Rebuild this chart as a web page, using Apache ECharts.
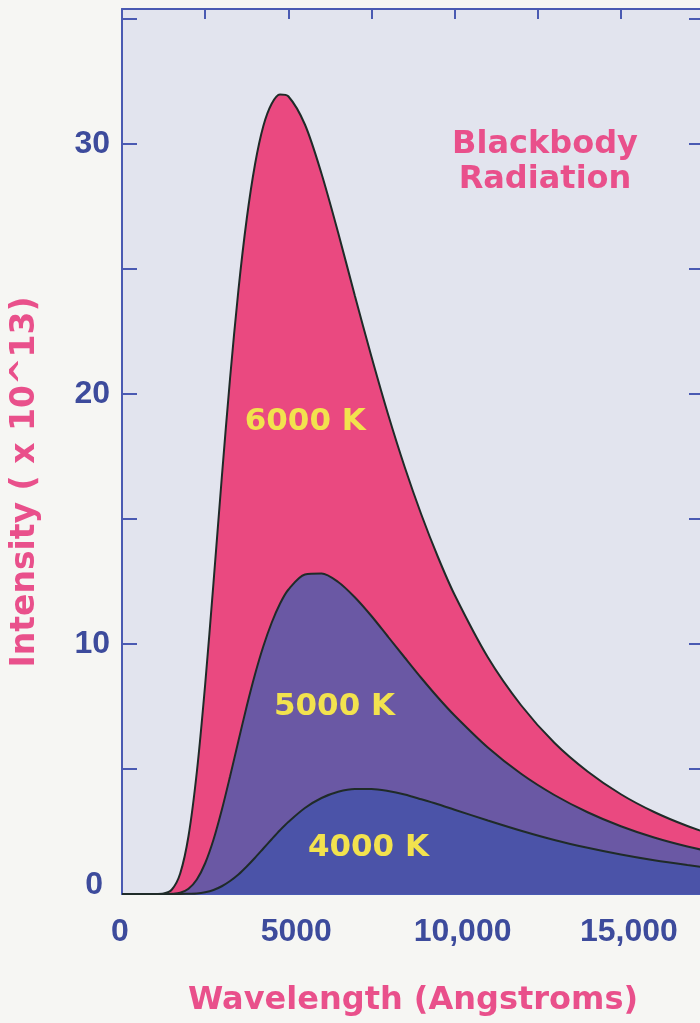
<!DOCTYPE html>
<html>
<head>
<meta charset="utf-8">
<script src="https://cdn.jsdelivr.net/npm/echarts@6/dist/echarts.min.js"></script>
<style>
  html, body { margin: 0; padding: 0; background: #f6f6f3; }
  #chart { width: 700px; height: 1023px; }
</style>
</head>
<body>
<div id="chart"></div>
<script>
// Wavelength samples (Angstroms)
const wavelengths = [0, 1000, 1250, 1500, 1750, 2000, 2250, 2500, 2750, 3000, 3250, 3500, 3750, 4000, 4250, 4500, 4750, 5000, 5500, 6000, 6500, 7000, 7500, 8000, 8500, 9000, 9500, 10000, 11000, 12000, 13000, 14000, 15000, 16000, 17000, 18000];
// Intensity (x 10^13)
const t6000 = [0, 0, 0.02, 0.18, 0.82, 2.32, 4.88, 8.37, 12.43, 16.65, 20.64, 24.15, 27.0, 29.19, 30.72, 31.61, 31.98, 31.91, 30.78, 28.81, 26.45, 23.94, 21.50, 19.19, 17.08, 15.18, 13.48, 11.97, 9.47, 7.55, 6.05, 4.90, 3.99, 3.28, 2.72, 2.27];
const t5000 = [0, 0, 0, 0.01, 0.05, 0.21, 0.58, 1.23, 2.17, 3.36, 4.71, 6.12, 7.51, 8.79, 9.91, 10.85, 11.61, 12.17, 12.78, 12.82, 12.48, 11.87, 11.12, 10.29, 9.46, 8.64, 7.86, 7.14, 5.86, 4.81, 3.96, 3.27, 2.71, 2.26, 1.90, 1.61];
const t4000 = [0, 0, 0, 0, 0, 0.01, 0.02, 0.07, 0.16, 0.31, 0.52, 0.78, 1.10, 1.45, 1.82, 2.19, 2.55, 2.88, 3.44, 3.84, 4.09, 4.20, 4.20, 4.12, 3.98, 3.79, 3.59, 3.37, 2.94, 2.53, 2.16, 1.85, 1.58, 1.35, 1.16, 0.99];
const seriesNames = ['6000 K', '5000 K', '4000 K'];
// label anchor points in data units [wavelength, intensity]
const labelAnchors = [[5510, 18.9], [6390, 7.5], [7410, 1.85]];
const xTickLabels = { 0: '0', 5000: '5000', 10000: '10,000', 15000: '15,000' };
const yTickLabels = { 0: '0', 10: '10', 20: '20', 30: '30' };
const titleText = 'Blackbody\nRadiation';
const xName = 'Wavelength (Angstroms)';
const yName = 'Intensity ( x 10^13)';

const axisBlue = '#4a5ab2';
const numBlue = '#3d4b9c';
const pinkText = '#e9508b';
const yellow = '#f2e24e';
const outline = '#1f2b28';
const fills = ['#ea4980', '#6a58a4', '#4b53a8'];

const allSeries = [t6000, t5000, t4000].map((vals, k) => ({
  type: 'line',
  name: seriesNames[k],
  data: wavelengths.map((w, i) => [w, vals[i]]),
  smooth: 0.3,
  symbol: 'none',
  lineStyle: { color: outline, width: 2 },
  areaStyle: { color: fills[k], opacity: 1 },
  markPoint: {
    symbol: 'circle',
    symbolSize: 1,
    itemStyle: { color: 'rgba(0,0,0,0)' },
    label: {
      show: true, position: 'inside', formatter: seriesNames[k],
      color: yellow, fontFamily: 'DejaVu Sans', fontWeight: 'bold', fontSize: 31
    },
    data: [{ coord: labelAnchors[k] }]
  }
}));

const chart = echarts.init(document.getElementById('chart'), null, { renderer: 'canvas' });
chart.setOption({
  animation: false,
  backgroundColor: '#f6f6f3',
  title: {
    text: titleText,
    left: 540, top: 122, textAlign: 'center',
    textStyle: { color: pinkText, fontFamily: 'DejaVu Sans', fontWeight: 'bold', fontSize: 32, lineHeight: 35 }
  },
  grid: {
    left: 122, width: 582, top: 9, height: 885,
    outerBoundsMode: 'none', containLabel: false,
    show: true, backgroundColor: '#e2e4ee', borderWidth: 0
  },
  xAxis: [{
    type: 'value', min: 0, max: 17500, interval: 2500, position: 'bottom',
    axisLine: { show: true, onZero: false, lineStyle: { color: axisBlue, width: 2 } },
    axisTick: { show: false },
    splitLine: { show: false },
    axisLabel: {
      margin: 22,
      formatter: v => (xTickLabels[v] !== undefined ? (v === 0 ? '{z|0}' : '{n|' + xTickLabels[v] + '}') : ''),
      rich: {
        z: { color: numBlue, fontFamily: 'Liberation Sans', fontWeight: 'bold', fontSize: 32, padding: [0, 4, 0, 0] },
        n: { color: numBlue, fontFamily: 'Liberation Sans', fontWeight: 'bold', fontSize: 32, padding: [0, 0, 0, 16] }
      }
    },
    name: xName, nameLocation: 'middle', nameGap: 91,
    nameTextStyle: { color: pinkText, fontFamily: 'DejaVu Sans', fontWeight: 'bold', fontSize: 32 }
  }, {
    type: 'value', min: 0, max: 17500, interval: 2500, position: 'top',
    axisLine: { show: true, onZero: false, lineStyle: { color: axisBlue, width: 2 } },
    axisTick: { show: true, inside: true, length: 10, lineStyle: { color: axisBlue, width: 2 } },
    axisLabel: { show: false },
    splitLine: { show: false }
  }],
  yAxis: [{
    type: 'value', min: 0, max: 35.4, interval: 5, position: 'left',
    axisLine: { show: true, onZero: false, lineStyle: { color: axisBlue, width: 2 } },
    axisTick: { show: true, inside: true, length: 15, lineStyle: { color: axisBlue, width: 2 } },
    splitLine: { show: false },
    axisLabel: {
      margin: 12,
      formatter: v => (yTickLabels[v] !== undefined ? (v === 0 ? '{z|0}' : '{n|' + yTickLabels[v] + '}') : ''),
      rich: {
        z: { color: numBlue, fontFamily: 'Liberation Sans', fontWeight: 'bold', fontSize: 32, padding: [0, 7, 18, 0] },
        n: { color: numBlue, fontFamily: 'Liberation Sans', fontWeight: 'bold', fontSize: 32 }
      }
    }
  }, {
    type: 'value', min: 0, max: 35.4, interval: 5, position: 'right',
    axisLine: { show: true, onZero: false, lineStyle: { color: axisBlue, width: 2 } },
    axisTick: { show: true, inside: true, length: 15, lineStyle: { color: axisBlue, width: 2 } },
    axisLabel: { show: false },
    splitLine: { show: false }
  }],
  graphic: [{
    type: 'text',
    x: 25, y: 482, rotation: Math.PI / 2,
    style: {
      text: yName, fill: pinkText, fontFamily: 'DejaVu Sans', fontWeight: 'bold', fontSize: 33,
      align: 'center', verticalAlign: 'middle'
    }
  }],
  series: allSeries
});
</script>
</body>
</html>
